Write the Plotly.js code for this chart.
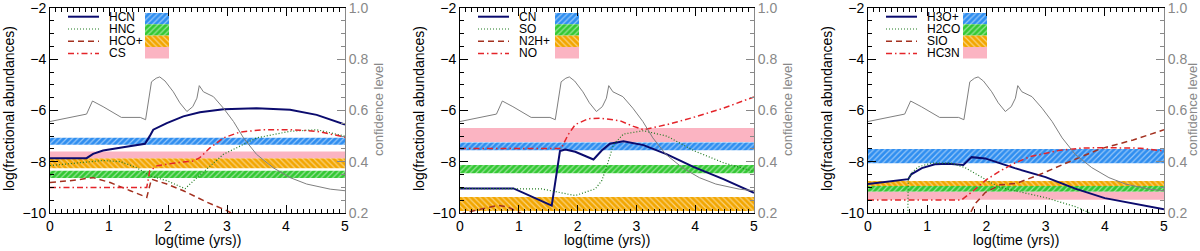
<!DOCTYPE html>
<html><head><meta charset="utf-8">
<script src="https://cdn.plot.ly/plotly-3.0.1.min.js"></script>
<style>html,body{margin:0;padding:0;background:#fff}#chart{width:1200px;height:251px}</style>
</head><body><div id="chart"></div>
<script>
// ---- confidence level (same in all panels, right axis) ----
const confX = [0, 0.62, 0.72, 0.9, 1.21, 1.53, 1.62, 1.72, 1.8, 1.86, 1.95, 2.09, 2.2, 2.32, 2.42, 2.49, 2.53, 2.6, 2.77, 2.94, 3.11, 3.28, 3.5, 3.78, 4.07, 4.35, 4.75, 5];
const confY = [0.557, 0.586, 0.637, 0.615, 0.573, 0.573, 0.564, 0.712, 0.726, 0.731, 0.715, 0.673, 0.63, 0.596, 0.615, 0.648, 0.697, 0.673, 0.654, 0.609, 0.557, 0.493, 0.429, 0.377, 0.338, 0.313, 0.293, 0.287];

// ---- panel 1 ----
const p1Names = ["HCN", "HNC", "HCO+", "CS"];
const hcnX = [0, 0.62, 0.73, 0.9, 1.24, 1.61, 1.69, 1.75, 1.98, 2.26, 2.54, 2.94, 3.5, 4.07, 4.52, 5];
const hcnY = [-7.86, -7.86, -7.69, -7.56, -7.43, -7.30, -7.0, -6.75, -6.49, -6.23, -6.07, -5.95, -5.91, -5.97, -6.17, -6.55];
const hncX = [0, 0.5, 0.9, 1.2, 1.47, 1.69, 1.98, 2.29, 2.49, 2.94, 3.5, 4.07, 4.52, 5];
const hncY = [-8.15, -8.05, -7.95, -8.0, -8.23, -8.55, -8.74, -9.05, -8.62, -7.71, -7.07, -6.81, -6.75, -7.0];
const hcopX = [0, 0.34, 0.73, 1.02, 1.36, 1.64, 1.72, 1.98, 2.26, 2.66, 2.99, 3.3];
const hcopY = [-8.81, -8.74, -8.62, -8.81, -9.13, -9.39, -8.68, -8.87, -9.13, -9.58, -9.9, -10.3];
const csX = [0, 1.64, 1.69, 1.81, 2.14, 2.43, 2.54, 2.71, 2.94, 3.22, 3.62, 4.07, 4.52, 5];
const csY = [-9.0, -9.0, -8.36, -8.16, -8.04, -7.97, -7.84, -7.46, -7.07, -6.84, -6.75, -6.75, -6.81, -7.04];
// observed ranges (blue, green, orange, pink)
const p1BandLo = [-7.34, -8.63, -8.25, -7.86];
const p1BandHi = [-7.06, -8.35, -7.86, -7.60];

// ---- panel 2 ----
const p2Names = ["CN", "SO", "N2H+", "NO"];
const cnX = [0, 0.91, 1.56, 1.70, 1.79, 1.96, 2.27, 2.41, 2.55, 2.78, 3.12, 3.52, 3.97, 4.48, 5];
const cnY = [-9.04, -9.04, -9.71, -7.58, -7.52, -7.61, -7.91, -7.56, -7.30, -7.20, -7.35, -7.71, -8.20, -8.68, -9.21];
const soX = [0, 0.91, 1.39, 1.96, 2.30, 2.41, 2.49, 2.61, 2.78, 3.12, 3.52, 3.97, 4.48, 5];
const soY = [-9.04, -9.04, -9.06, -9.32, -9.06, -8.74, -8.23, -7.33, -6.92, -6.79, -7.0, -7.56, -8.04, -8.38];
const n2hX = [0, 0.25, 0.65, 0.82, 1.05, 1.3];
const n2hY = [-10.05, -9.9, -9.7, -9.77, -10.03, -10.4];
const noX = [0, 1.72, 1.84, 1.96, 2.18, 2.38, 2.72, 2.95, 3.12, 3.52, 3.97, 4.48, 5];
const noY = [-7.48, -7.48, -6.94, -6.55, -6.32, -6.30, -6.40, -6.62, -6.75, -6.55, -6.27, -5.91, -5.47];
const p2BandLo = [-7.55, -8.45, -9.92, -7.23];
const p2BandHi = [-7.25, -8.13, -9.38, -6.68];

// ---- panel 3 ----
const p3Names = ["H3O+", "H2CO", "SIO", "HC3N"];
const h3oX = [0, 0.68, 0.73, 0.91, 1.13, 1.36, 1.61, 1.75, 1.98, 2.2, 2.48, 3.0, 3.5, 4.0, 4.5, 5];
const h3oY = [-8.87, -8.68, -8.49, -8.25, -8.10, -8.08, -8.13, -7.82, -7.87, -8.04, -8.25, -8.6, -9.05, -9.42, -9.65, -9.85];
const h2coX = [0.67, 0.68, 0.75, 0.85, 1.08, 1.4, 1.64, 1.92, 2.2, 2.48, 3.0, 3.5, 3.8];
const h2coY = [-10.5, -8.68, -8.4, -8.2, -8.05, -8.05, -8.23, -8.62, -8.98, -9.13, -9.4, -9.75, -10.05];
const sioX = [1.66, 1.81, 1.98, 2.23, 2.5, 2.9, 3.35, 3.92, 4.48, 5];
const sioY = [-10.3, -9.64, -9.2, -8.9, -8.85, -8.5, -8.05, -7.5, -7.15, -6.75];
const hc3nX = [0, 1.58, 1.78, 2.0, 2.23, 2.48, 2.74, 3.24, 3.6, 3.92, 4.6, 5];
const hc3nY = [-9.49, -9.49, -9.13, -8.7, -8.36, -8.05, -7.8, -7.55, -7.47, -7.45, -7.47, -7.58];
const p3BandLo = [-8.06, -9.17, -8.95, -9.48];
const p3BandHi = [-7.5, -8.95, -8.75, -9.17];

// ---- styles ----
const lineStyles = [
  {color: "#0b0b6e", width: 2, dash: "solid"},
  {color: "#1e7a1e", width: 1.2, dash: "1px,2px"},
  {color: "#a3301f", width: 1.5, dash: "6px,4px"},
  {color: "#e4242a", width: 1.5, dash: "6px,3px,1.5px,3px"}
];
const bandStyles = [
  {color: "#2f8ef0", shape: "/"},
  {color: "#33c833", shape: "/"},
  {color: "#f2a600", shape: "\\"},
  {color: "#fbb4c2", shape: ""}
];

const panels = [
  {names: p1Names, series: [[hcnX, hcnY], [hncX, hncY], [hcopX, hcopY], [csX, csY]], lo: p1BandLo, hi: p1BandHi, dom: [50, 345], rt: 378},
  {names: p2Names, series: [[cnX, cnY], [soX, soY], [n2hX, n2hY], [noX, noY]], lo: p2BandLo, hi: p2BandHi, dom: [460, 754], rt: 787},
  {names: p3Names, series: [[h3oX, h3oY], [h2coX, h2coY], [sioX, sioY], [hc3nX, hc3nY]], lo: p3BandLo, hi: p3BandHi, dom: [868, 1164], rt: 1192}
];

const W = 1200, H = 251;
const yTop = 8, yBot = 213;
const traces = [];
const annotations = [];
const layout = {
  width: W, height: H,
  margin: {l: 0, r: 0, t: 0, b: 0},
  paper_bgcolor: "#fff", plot_bgcolor: "#fff",
  showlegend: false, barmode: "overlay",
  font: {family: "Liberation Sans, Arial, sans-serif", size: 14, color: "#000"},
  annotations: annotations
};

function bandTrace(xa, ya, xc, w, lo, hi, st) {
  const m = {color: st.color, line: {width: 0}};
  if (st.shape) m.pattern = {shape: st.shape, fgcolor: "#ffffff", bgcolor: st.color, size: 4, solidity: 0.3, fillmode: "overlay"};
  return {type: "bar", x: [xc], width: [w], base: [lo], y: [hi - lo], xaxis: xa, yaxis: ya, marker: m, hoverinfo: "skip"};
}

panels.forEach((p, i) => {
  const n = i + 1;
  const xk = n === 1 ? "xaxis" : "xaxis" + n;
  const xa = n === 1 ? "x" : "x" + n;
  const yL = 2 * n - 1, yR = 2 * n;
  const ykL = yL === 1 ? "yaxis" : "yaxis" + yL;
  const yaL = yL === 1 ? "y" : "y" + yL;
  const ykR = "yaxis" + yR, yaR = "y" + yR;
  const d0 = p.dom[0] / W, d1 = p.dom[1] / W;
  const ydom = [1 - yBot / H, 1 - yTop / H];
  const pxW = p.dom[1] - p.dom[0];
  const px2x = px => px / pxW * 5;
  const py2y = py => -2 - (py - yTop) / (yBot - yTop) * 8;

  layout[xk] = {domain: [d0, d1], anchor: yaL, range: [0, 5], dtick: 1, tick0: 0,
    ticks: "inside", ticklen: 8, tickcolor: "#000", showline: true, linecolor: "#000", linewidth: 1,
    mirror: "ticks", zeroline: false, showgrid: false, fixedrange: true, ticklabeloverflow: "allow",
    minor: {ticks: "inside", dtick: 0.1, ticklen: 4, tickcolor: "#000", showgrid: false},
    tickfont: {size: 14, color: "#000"}};
  layout[ykL] = {domain: ydom, anchor: xa, range: [-10, -2], dtick: 2, tick0: -10,
    ticks: "inside", ticklen: 8, tickcolor: "#000", showline: true, linecolor: "#000", linewidth: 1,
    zeroline: false, showgrid: false, fixedrange: true, ticklabeloverflow: "allow",
    minor: {ticks: "inside", dtick: 0.5, ticklen: 4, tickcolor: "#000", showgrid: false},
    tickfont: {size: 14, color: "#000"}};
  layout[ykR] = {overlaying: yaL, anchor: xa, side: "right", range: [0.2, 1.0], dtick: 0.2, tick0: 0.2,
    tickformat: ".1f", ticks: "inside", ticklen: 8, tickcolor: "#888", showline: true, linecolor: "#888", linewidth: 1,
    zeroline: false, showgrid: false, fixedrange: true, ticklabeloverflow: "allow",
    minor: {ticks: "inside", dtick: 0.05, ticklen: 4, tickcolor: "#888", showgrid: false},
    tickfont: {size: 14, color: "#888"}};

  // bands
  for (let k = 0; k < 4; k++) traces.push(bandTrace(xa, yaL, 2.5, 5, p.lo[k], p.hi[k], bandStyles[k]));
  // model curves
  p.series.forEach((s, k) => {
    traces.push({type: "scatter", mode: "lines", x: s[0], y: s[1], xaxis: xa, yaxis: yaL,
      line: lineStyles[k], hoverinfo: "skip"});
  });
  // confidence level
  traces.push({type: "scatter", mode: "lines", x: confX, y: confY, xaxis: xa, yaxis: yaR,
    line: {color: "#7f7f7f", width: 1}, hoverinfo: "skip"});

  // legend (drawn inside the panel)
  const rowPy = [16.7, 29, 41.3, 53.5];
  const patchPy = [[13, 24.3], [24.3, 35.6], [35.6, 47], [47, 58.5]];
  for (let k = 0; k < 4; k++) {
    const yy = py2y(rowPy[k]);
    traces.push({type: "scatter", mode: "lines", x: [px2x(18), px2x(49)], y: [yy, yy], xaxis: xa, yaxis: yaL,
      line: lineStyles[k], hoverinfo: "skip"});
    annotations.push({xref: xa, yref: yaL, x: px2x(57), y: yy, text: p.names[k], showarrow: false,
      xanchor: "left", yanchor: "middle", font: {size: 12, color: "#000"}});
    traces.push(bandTrace(xa, yaL, px2x(107), px2x(24), py2y(patchPy[k][1]), py2y(patchPy[k][0]), bandStyles[k]));
  }

  // axis titles
  annotations.push({xref: "paper", yref: "paper", x: (p.dom[0] + p.dom[1]) / 2 / W, y: 1 - 240 / H,
    text: "log(time (yrs))", showarrow: false, xanchor: "center", yanchor: "middle", font: {size: 14, color: "#000"}});
  annotations.push({xref: "paper", yref: "paper", x: (p.dom[0] - 41) / W, y: 1 - 109 / H,
    text: "log(fractional abundances)", textangle: -90, showarrow: false, xanchor: "center", yanchor: "middle",
    font: {size: 14, color: "#000"}});
  annotations.push({xref: "paper", yref: "paper", x: p.rt / W, y: 1 - 110 / H,
    text: "confidence level", textangle: -90, showarrow: false, xanchor: "center", yanchor: "middle",
    font: {size: 13, color: "#888"}});
});

Plotly.newPlot("chart", traces, layout, {staticPlot: true});
</script>
</body></html>
